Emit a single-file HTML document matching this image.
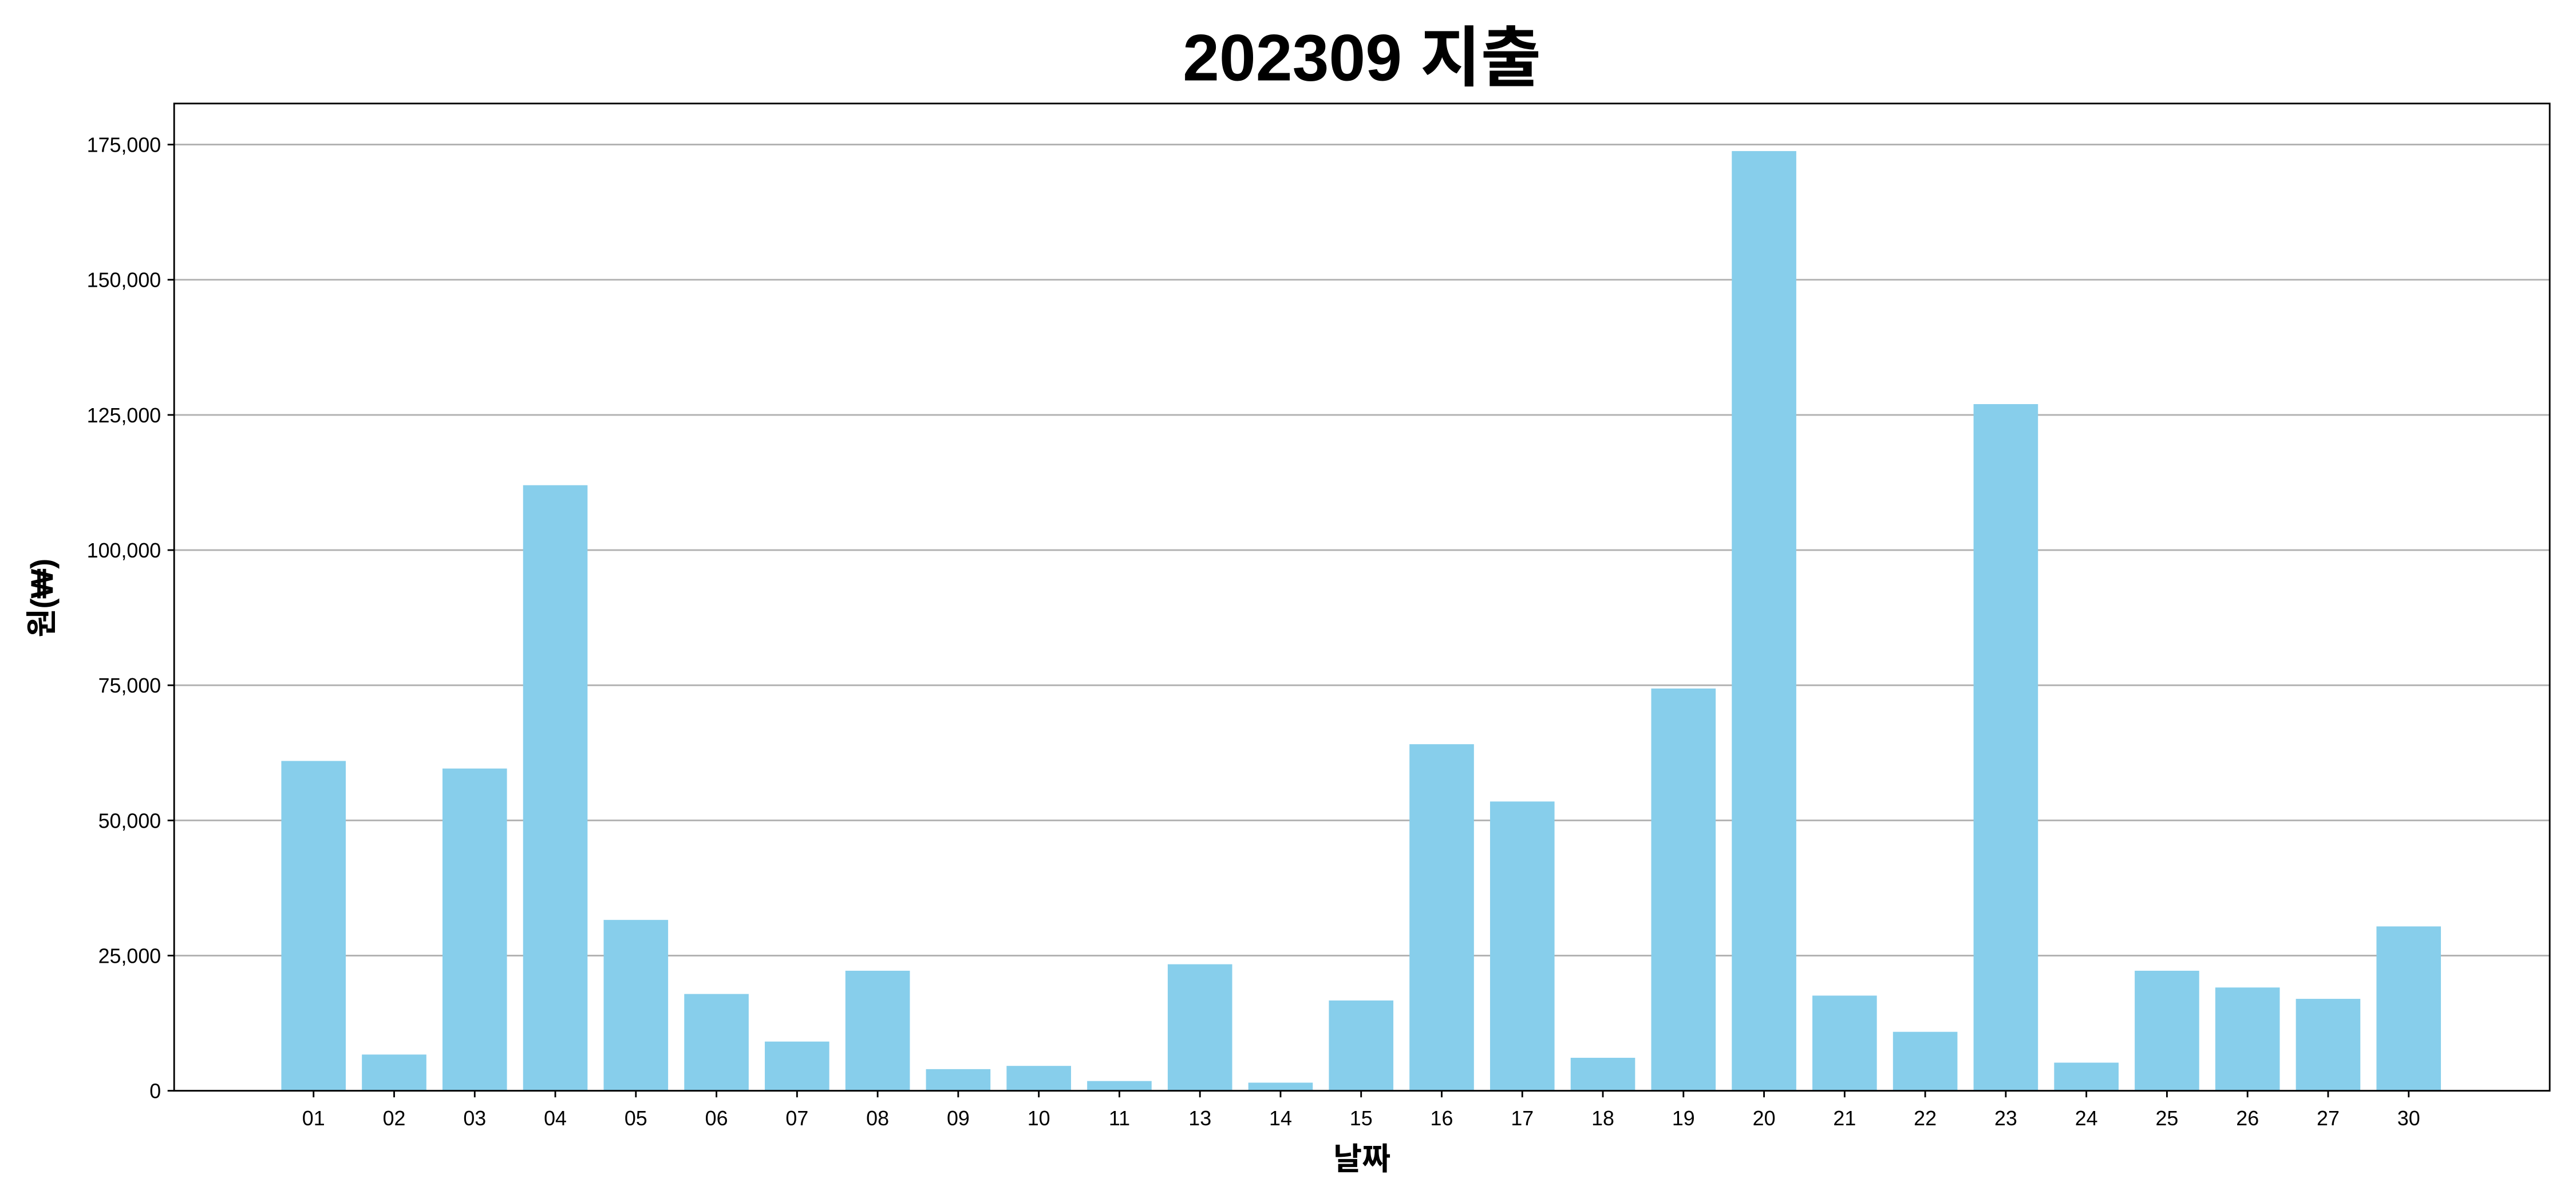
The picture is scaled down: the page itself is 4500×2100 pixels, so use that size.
<!DOCTYPE html>
<html><head><meta charset="utf-8"><style>
html,body{margin:0;padding:0;background:#fff}
svg{display:block}
text{font-family:"Liberation Sans","Noto Sans CJK KR",sans-serif;fill:#000}
</style></head><body>
<svg id="chart" width="4500" height="2100" viewBox="0 0 1568 731.7" xmlns="http://www.w3.org/2000/svg">
<rect x="0" y="0" width="1568" height="731.7" fill="#fff"/>
<text x="829" y="49" font-size="40" font-weight="bold" text-anchor="middle">202309 지출</text>
<g id="grid"></g>
<g id="bars"></g>
<g id="yaxis"></g>
<g id="xaxis"></g>
<rect x="106" y="63" width="1446" height="601" fill="none" stroke="#000" stroke-width="1"/>
<text x="829" y="712" font-size="19" font-weight="bold" text-anchor="middle">날짜</text>
<text transform="translate(32,364) rotate(-90)" font-size="19" font-weight="bold" text-anchor="middle">원(₩)</text>
</svg>
<script>
const categories = ["01","02","03","04","05","06","07","08","09","10","11","13","14","15","16","17","18","19","20","21","22","23","24","25","26","27","30"];
const values = [61000,6700,59600,112000,31600,17900,9100,22200,4000,4600,1800,23400,1500,16700,64100,53500,6100,74400,173800,17600,10900,127000,5200,22200,19100,17000,30400];
const yTicks = [0,25000,50000,75000,100000,125000,150000,175000];
const yTickLabels = ["0","25,000","50,000","75,000","100,000","125,000","150,000","175,000"];

const NS = "http://www.w3.org/2000/svg";
const plotL = 106, plotR = 1552, plotT = 63, plotB = 664;
const xMin = -1.73, xMax = categories.length - 1 + 1.75;
const yMax = 175000 * (plotB - plotT) / (664 - 88);
function xScale(i){ return plotL + (i - xMin) / (xMax - xMin) * (plotR - plotL); }
function yScale(v){ return plotB - v / yMax * (plotB - plotT); }
const unit = xScale(1) - xScale(0);

const grid = document.getElementById('grid');
const yaxis = document.getElementById('yaxis');
yTicks.forEach((t, k) => {
  const y = yScale(t);
  const g = document.createElementNS(NS, 'line');
  g.setAttribute('x1', plotL); g.setAttribute('x2', plotR);
  g.setAttribute('y1', y); g.setAttribute('y2', y);
  g.setAttribute('stroke', '#b0b0b0'); g.setAttribute('stroke-width', '1');
  
  
  grid.appendChild(g);
  const tk = document.createElementNS(NS, 'line');
  tk.setAttribute('x1', plotL - 4); tk.setAttribute('x2', plotL);
  tk.setAttribute('y1', y); tk.setAttribute('y2', y);
  tk.setAttribute('stroke', '#000');
  
  
  yaxis.appendChild(tk);
  const tx = document.createElementNS(NS, 'text');
  tx.setAttribute('x', plotL - 8); tx.setAttribute('y', y + 4.5);
  tx.setAttribute('font-size', '12.5'); tx.setAttribute('text-anchor', 'end');
  tx.textContent = yTickLabels[k];
  
  
  yaxis.appendChild(tx);
});

const bars = document.getElementById('bars');
const xaxis = document.getElementById('xaxis');
categories.forEach((c, i) => {
  const cx = xScale(i), w = unit * 0.8;
  const r = document.createElementNS(NS, 'rect');
  r.setAttribute('x', cx - w / 2); r.setAttribute('width', w);
  r.setAttribute('y', yScale(values[i])); r.setAttribute('height', plotB - yScale(values[i]));
  r.setAttribute('fill', '#87ceeb');
  
  
  bars.appendChild(r);
  const tk = document.createElementNS(NS, 'line');
  tk.setAttribute('x1', cx); tk.setAttribute('x2', cx);
  tk.setAttribute('y1', plotB); tk.setAttribute('y2', plotB + 4);
  tk.setAttribute('stroke', '#000');
  
  
  xaxis.appendChild(tk);
  const tx = document.createElementNS(NS, 'text');
  tx.setAttribute('x', cx); tx.setAttribute('y', plotB + 21);
  tx.setAttribute('font-size', '12.5'); tx.setAttribute('text-anchor', 'middle');
  tx.textContent = c;
  
  
  xaxis.appendChild(tx);
});
</script>
</body></html>
